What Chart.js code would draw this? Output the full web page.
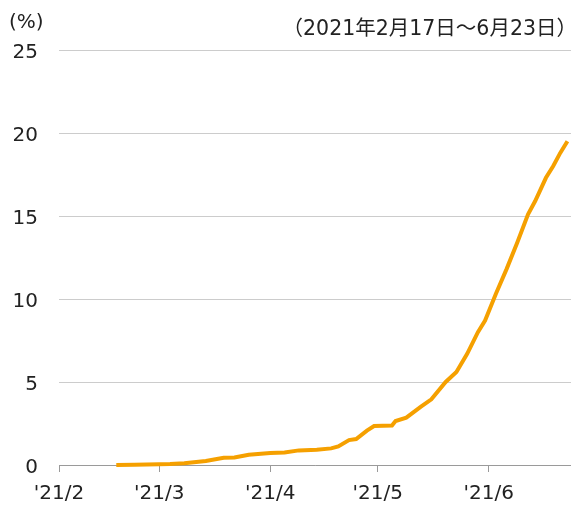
<!DOCTYPE html>
<html>
<head>
<meta charset="utf-8">
<script src="https://cdn.jsdelivr.net/npm/chart.js@4"></script>
<style>
html,body{margin:0;padding:0;background:#fff;}
#wrap{width:571px;height:506px;position:relative;}
</style>
</head>
<body>
<div id="wrap"><canvas id="c" width="571" height="506"></canvas></div>
<script>
const dates = ['2021-02-17','2021-02-22','2021-03-01','2021-03-04','2021-03-08','2021-03-12','2021-03-14','2021-03-19','2021-03-22','2021-03-26','2021-04-01','2021-04-05','2021-04-09','2021-04-14','2021-04-18','2021-04-20','2021-04-23','2021-04-25','2021-04-28','2021-04-30','2021-05-05','2021-05-06','2021-05-09','2021-05-13','2021-05-16','2021-05-20','2021-05-23','2021-05-26','2021-05-29','2021-05-31','2021-06-03','2021-06-06','2021-06-09','2021-06-12','2021-06-14','2021-06-17','2021-06-19','2021-06-21','2021-06-23'];
const rates = [0,0.01,0.05,0.06,0.1,0.2,0.24,0.44,0.45,0.62,0.72,0.75,0.88,0.92,1.0,1.12,1.5,1.56,2.07,2.35,2.38,2.65,2.85,3.5,3.96,5.0,5.6,6.7,8.0,8.7,10.3,11.8,13.4,15.1,15.9,17.3,18.0,18.8,19.5];
const monthTicks = ['2021-02-01','2021-03-01','2021-04-01','2021-05-01','2021-06-01'];
const monthLabels = ["'21/2","'21/3","'21/4","'21/5","'21/6"];
const xEnd = '2021-06-24';
const yTicks = [0,5,10,15,20,25];
const unitLabel = '(%)';
const periodLabel = '（2021年2月17日～6月23日）';

const base = Date.parse('2021-02-01T00:00:00Z');
const dayOf = s => Math.round((Date.parse(s + 'T00:00:00Z') - base) / 86400000);
const points = dates.map((d, i) => ({x: dayOf(d), y: rates[i]}));
const tickVals = monthTicks.map(dayOf);

const textPlugin = {
  id: 'texts',
  afterDraw(chart) {
    const ctx = chart.ctx;
    ctx.save();
    ctx.fillStyle = '#222';
    ctx.textBaseline = 'middle';
    ctx.font = '20px "DejaVu Sans"';
    ctx.textAlign = 'left';
    ctx.fillText(unitLabel, 9, 23);
    ctx.font = '20.5px "DejaVu Sans", "Noto Sans CJK JP"';
    ctx.textAlign = 'right';
    ctx.fillText(periodLabel, 577, 30);
    ctx.restore();
  }
};

new Chart(document.getElementById('c'), {
  type: 'line',
  data: {
    datasets: [{
      data: points,
      borderColor: '#f5a000',
      borderWidth: 4,
      pointRadius: 0,
      tension: 0,
      fill: false,
      clip: false
    }]
  },
  options: {
    responsive: false,
    animation: false,
    events: [],
    layout: {padding: {top: 50, right: 0, left: 0, bottom: 0}},
    plugins: {legend: {display: false}, tooltip: {enabled: false}, title: {display: false}},
    scales: {
      x: {
        type: 'linear',
        min: 0,
        max: dayOf(xEnd),
        afterBuildTicks(scale) { scale.ticks = tickVals.map(v => ({value: v})); },
        afterFit(scale) { scale.height = 41; },
        ticks: {
          autoSkip: false, maxRotation: 0, padding: 10,
          color: '#222',
          font: {family: '"DejaVu Sans"', size: 20},
          callback(v) { const i = tickVals.indexOf(v); return i >= 0 ? monthLabels[i] : ''; }
        },
        grid: {drawOnChartArea: false, drawTicks: true, tickLength: 7, color: '#9a9a9a', lineWidth: 1},
        border: {display: true, color: '#9a9a9a', width: 1}
      },
      y: {
        min: 0, max: 25,
        afterBuildTicks(scale) { scale.ticks = yTicks.map(v => ({value: v})); },
        afterFit(scale) { scale.width = 59; },
        ticks: {
          padding: 21, color: '#222', labelOffset: 3,
          font: {family: '"DejaVu Sans"', size: 20}
        },
        grid: {drawTicks: false, color: '#cccccc', lineWidth: 1},
        border: {display: false}
      }
    }
  },
  plugins: [textPlugin]
});
</script>
</body>
</html>
